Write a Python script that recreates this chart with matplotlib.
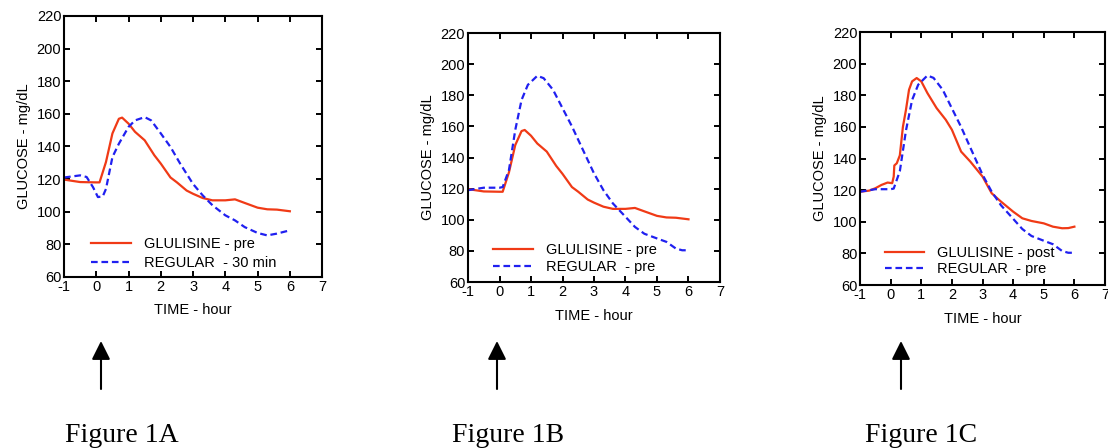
import numpy as np
import matplotlib
matplotlib.use("Agg")
import matplotlib.pyplot as plt

plt.rcParams['font.family'] = ['Liberation Sans', 'DejaVu Sans']
plt.rcParams['axes.unicode_minus'] = False

# glulisine pre (same curve in 1A and 1B)
glu_pre_t = [-1, -0.5, 0, 0.1, 0.3, 0.5, 0.7, 0.8, 1.0, 1.2, 1.5, 1.8, 2.0, 2.3, 2.5,
             2.8, 3.0, 3.3, 3.6, 4.0, 4.3, 4.6, 5.0, 5.3, 5.6, 6.0]
glu_pre_g = [119.7, 118.2, 118, 118, 130.5, 148, 157, 157.7, 154, 149, 143.8, 134.6, 129.5,
             121, 118, 113, 111, 108.4, 107, 107, 107.6, 105.4, 102.5, 101.5, 101.3, 100.3]

# regular 30 min before meal (1A)
reg30_t = [-1, -0.5, -0.3, -0.1, 0.05, 0.2, 0.3, 0.5, 0.7, 1.0, 1.2, 1.5, 1.7, 2.0, 2.3,
           2.6, 3.0, 3.3, 3.6, 4.0, 4.3, 4.6, 5.0, 5.3, 5.6, 6.0]
reg30_g = [121, 122.3, 121.3, 115, 109, 109.4, 114, 133.5, 141.7, 152, 156, 158, 156, 148,
           139.7, 129.5, 117, 110, 104, 97.8, 94.7, 90.6, 87, 85.5, 86.6, 88.6]

# regular pre (1B and 1C)
reg_pre_t = [-1, -0.5, 0, 0.1, 0.3, 0.5, 0.7, 0.9, 1.2, 1.4, 1.7, 2.0, 2.3, 2.6, 3.0,
             3.3, 3.6, 4.0, 4.3, 4.6, 5.0, 5.3, 5.6, 5.8, 6.0]
reg_pre_g = [119, 120.6, 120.6, 121, 132, 157.7, 177, 186.7, 192.5, 191, 183.5, 171.7, 160,
             147, 129.8, 119, 110.5, 101.9, 95.4, 91, 88, 85.8, 81.5, 80.4, 80.4]

# glulisine post (1C)
glu_post_t = [-1, -0.7, -0.5, -0.3, -0.1, 0.05, 0.1, 0.12, 0.2, 0.3, 0.4, 0.5, 0.6, 0.7,
              0.85, 1.0, 1.2, 1.5, 1.8, 2.0, 2.3, 2.6, 3.0, 3.3, 3.6, 4.0, 4.3, 4.6, 5.0,
              5.3, 5.6, 5.8, 6.0]
glu_post_g = [119, 119.7, 121.2, 123.3, 124.8, 124.4, 128.6, 135.6, 137, 142, 160, 170.8,
              183.5, 188.8, 190.9, 188.8, 181.4, 171.9, 164.5, 158.2, 144.4, 138.1, 128.6,
              118, 112.8, 106.4, 102.2, 100.5, 99, 96.9, 95.9, 96, 96.9]

panels = [
    dict(rect=[0.0578, 0.3817, 0.2329, 0.5826],
         red=(glu_pre_t, glu_pre_g, 'GLULISINE - pre'),
         blue=(reg30_t, reg30_g, 'REGULAR  - 30 min'),
         leg=(0.105, 0.026), lsp=0.35, arrow_x=101, cap_x=65, cap='Figure 1A'),
    dict(rect=[0.4224, 0.3705, 0.2274, 0.5558],
         red=(glu_pre_t, glu_pre_g, 'GLULISINE - pre'),
         blue=(reg_pre_t, reg_pre_g, 'REGULAR  - pre'),
         leg=(0.10, 0.032), lsp=0.2, arrow_x=497, cap_x=452, cap='Figure 1B'),
    dict(rect=[0.7762, 0.3638, 0.2211, 0.5647],
         red=(glu_post_t, glu_post_g, 'GLULISINE - post'),
         blue=(reg_pre_t, reg_pre_g, 'REGULAR  - pre'),
         leg=(0.10, 0.036), lsp=0.15, arrow_x=901, cap_x=865, cap='Figure 1C'),
]

W, H = 1108, 448
fig = plt.figure(figsize=(W / 100, H / 100), dpi=100)

for p in panels:
    ax = fig.add_axes(p['rect'])
    rt, rg, rl = p['red']
    bt, bg, bl = p['blue']
    ax.plot(rt, rg, color='#f03a16', lw=1.6, label=rl, solid_joinstyle='round')
    ax.plot(bt, bg, color='#2020f0', lw=1.6, dashes=(3, 1.7), label=bl,
            dash_joinstyle='round')
    ax.set_xlim(-1, 7)
    ax.set_ylim(60, 220)
    ax.set_xticks(range(-1, 8))
    ax.set_yticks(range(60, 221, 20))
    ax.tick_params(direction='in', length=4.5, width=1.4, top=True, right=True,
                   labelsize=10.5, pad=2)
    for s in ax.spines.values():
        s.set_linewidth(1.5)
    ax.set_xlabel('TIME - hour', fontsize=10.5, labelpad=7)
    ax.set_ylabel('GLUCOSE - mg/dL', fontsize=10.5, labelpad=4)
    ax.legend(loc='lower left', bbox_to_anchor=p['leg'], frameon=False, fontsize=10.5,
              borderpad=0, handlelength=2.7, handletextpad=0.9, labelspacing=p['lsp'],
              borderaxespad=0)

    fig.add_artist(matplotlib.patches.FancyArrowPatch(
        (p['arrow_x'] / W, (H - 389) / H), (p['arrow_x'] / W, (H - 341) / H),
        transform=fig.transFigure, arrowstyle='-|>,head_length=0.8,head_width=0.4',
        mutation_scale=14, lw=1.5, color='black', shrinkA=0, shrinkB=0))
    fig.text(p['cap_x'] / W, (H - 442) / H, p['cap'], family='Liberation Serif',
             fontsize=20, va='baseline', ha='left')

fig.savefig('out.png', dpi=100)
